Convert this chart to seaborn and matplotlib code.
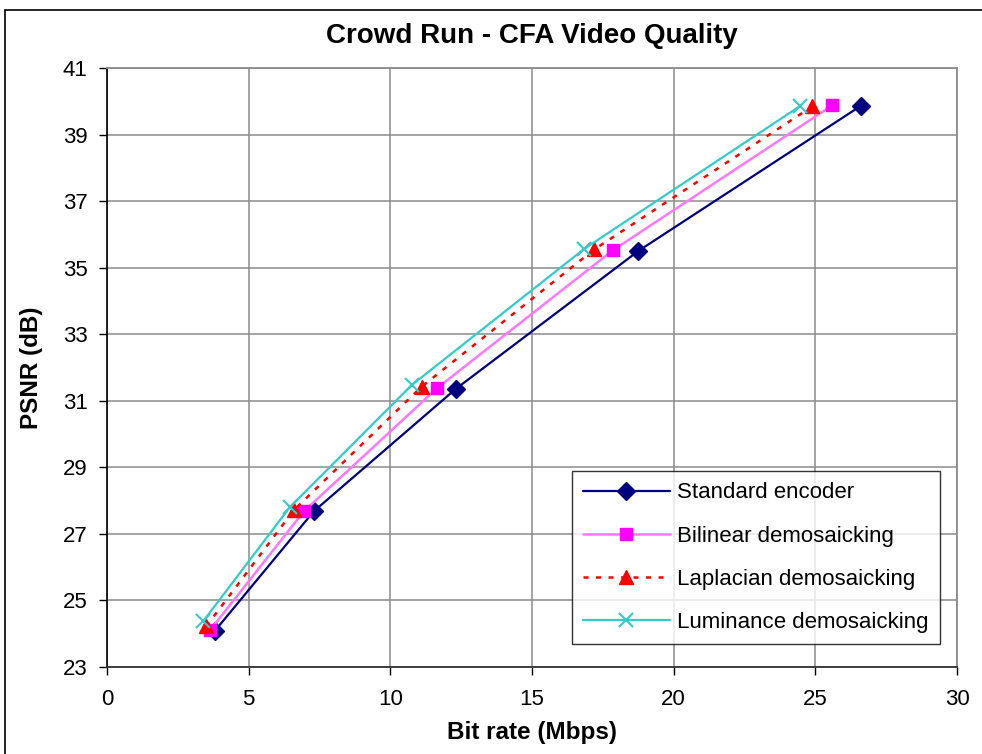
import numpy as np
import pandas as pd
import matplotlib
matplotlib.use('Agg')
import matplotlib.pyplot as plt
import seaborn as sns
from matplotlib.patches import Rectangle

# ── data ──
standard_rate = [3.8, 7.3, 12.3, 18.75, 26.6]
standard_psnr = [24.08, 27.68, 31.35, 35.5, 39.86]

bilinear_rate = [3.65, 6.95, 11.65, 17.85, 25.6]
bilinear_psnr = [24.12, 27.68, 31.38, 35.52, 39.88]

laplacian_rate = [3.5, 6.6, 11.1, 17.2, 24.9]
laplacian_psnr = [24.22, 27.72, 31.42, 35.55, 39.85]

luminance_rate = [3.4, 6.45, 10.75, 16.85, 24.45]
luminance_psnr = [24.38, 27.8, 31.47, 35.57, 39.85]

series_names = ['Standard encoder', 'Bilinear demosaicking',
                'Laplacian demosaicking', 'Luminance demosaicking']

x_ticks = [0, 5, 10, 15, 20, 25, 30]
y_ticks = [23, 25, 27, 29, 31, 33, 35, 37, 39, 41]

frames = []
for name, r, p in zip(series_names,
                      [standard_rate, bilinear_rate, laplacian_rate, luminance_rate],
                      [standard_psnr, bilinear_psnr, laplacian_psnr, luminance_psnr]):
    frames.append(pd.DataFrame({'rate': r, 'psnr': p, 'series': name}))
df = pd.concat(frames, ignore_index=True)

sns.set_style('white')
plt.rcParams['font.family'] = ['Liberation Sans', 'DejaVu Sans']
plt.rcParams.update({'text.color': 'black', 'axes.labelcolor': 'black',
                     'xtick.color': 'black', 'ytick.color': 'black'})

styles = {
    'Standard encoder': dict(color='#000080', marker='D', ls='-', lw=1.6, ms=9, mew=1),
    'Bilinear demosaicking': dict(color='#FF77FF', marker='s', ls='-', lw=1.8, ms=9, mew=1,
                                  mfc='#FF00FF', mec='#FF00FF'),
    'Laplacian demosaicking': dict(color='#FF0000', marker='^', ls=(0, (2, 3)), lw=1.8, ms=10, mew=1),
    'Luminance demosaicking': dict(color='#33CCCC', marker='x', ls='-', lw=1.6, ms=10, mew=1.5),
}

fig = plt.figure(figsize=(9.82, 7.54), dpi=100)
ax = fig.add_axes([107 / 982, 1 - 667 / 754, (957 - 107) / 982, (667 - 68) / 754])

for name in series_names:
    sub = df[df['series'] == name]
    st = styles[name]
    sns.lineplot(data=sub, x='rate', y='psnr', ax=ax, sort=False,
                 color=st['color'], linestyle=st['ls'], linewidth=st['lw'],
                 marker=st['marker'], markersize=st['ms'], markeredgewidth=st['mew'],
                 markerfacecolor=st.get('mfc', st['color']),
                 markeredgecolor=st.get('mec', st['color']),
                 label=name)

ax.set_xlim(0, 30)
ax.set_ylim(23, 41)
ax.set_xticks(x_ticks)
ax.set_yticks(y_ticks)
ax.grid(True, color='#8c8c8c', linewidth=1.1)
ax.set_axisbelow(True)

for side in ['top', 'right']:
    ax.spines[side].set_color('#8c8c8c')
    ax.spines[side].set_linewidth(1.3)
ax.spines['left'].set_color('black')
ax.spines['bottom'].set_color('#333333')
ax.spines['left'].set_linewidth(1.2)
ax.spines['bottom'].set_linewidth(1.3)
ax.tick_params(axis='both', direction='out', length=6, width=1, labelsize=16,
               colors='black', left=True, bottom=True)
ax.tick_params(axis='y', pad=8)
ax.tick_params(axis='x', pad=10)

ax.set_xlabel('Bit rate (Mbps)', fontsize=17.5, fontweight='bold', labelpad=8)
ax.set_ylabel('PSNR (dB)', fontsize=17.5, fontweight='bold', labelpad=14)
ax.set_title('Crowd Run - CFA Video Quality', fontsize=20, fontweight='bold', pad=18)

leg = ax.legend(loc='lower right', bbox_to_anchor=(0.98, 0.038), fontsize=16,
                frameon=True, fancybox=False, edgecolor='black', handlelength=3.9,
                handletextpad=0.35, labelspacing=1.0, borderpad=0.5, borderaxespad=0)
leg.get_frame().set_linewidth(1.0)
for t in leg.get_texts():
    t.set_color('black')

# outer chart-area border, cut off at right and bottom like the reference
fig.patches.append(Rectangle((5 / 982, -0.05), 1.2, 1 - 10 / 754 + 0.05,
                             transform=fig.transFigure, fill=False,
                             edgecolor='black', linewidth=1.2))

fig.savefig('out.png', dpi=100)
